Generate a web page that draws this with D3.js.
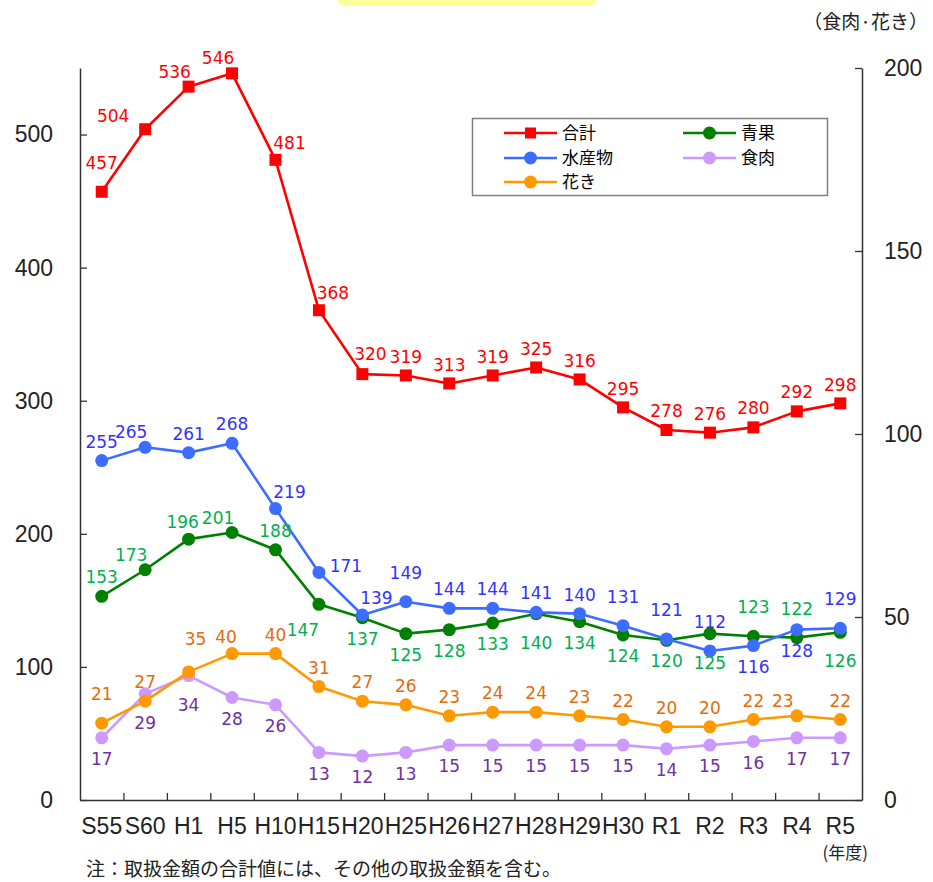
<!DOCTYPE html>
<html>
<head>
<meta charset="utf-8">
<script src="https://cdn.jsdelivr.net/npm/d3@7"></script>
<style>
  body { margin: 0; background: #fff; }
  svg { display: block; }
</style>
</head>
<body>
<script>
// categorias del eje x (年度)
var categorias = ["S55","S60","H1","H5","H10","H15","H20","H25","H26","H27","H28","H29","H30","R1","R2","R3","R4","R5"]

// valores (eje izquierdo)
var goukei = [457,504,536,546,481,368,320,319,313,319,325,316,295,278,276,280,292,298]
var seika  = [153,173,196,201,188,147,137,125,128,133,140,134,124,120,125,123,122,126]
var suisan = [255,265,261,268,219,171,139,149,144,144,141,140,131,121,112,116,128,129]
// valores (eje derecho: 食肉・花き)
var shokuniku = [17,29,34,28,26,13,12,13,15,15,15,15,15,14,15,16,17,17]
var hanaki    = [21,27,35,40,40,31,27,26,23,24,24,23,22,20,20,22,23,22]

var ticksIzq = [0,100,200,300,400,500]
var ticksDer = [0,50,100,150,200]

// donde va cada etiqueta respecto al punto
var posGoukei = ["tt","l","tl","tl","tr","tr","tr2","t","t","t","t","t","t","t","t","t","t","t"]
var posSeika  = ["t","tl","tls","tl","t","bl","b","b","b","b","bb","b","b","b","bb","tt","tt","bb"]
var posSuisan = ["t","tl","t","t","tr","r","tr","tt","t","t","t","t","tt","tt","tt","b","b","tt"]
var posShoku  = ["b","bb","bb","b","b","b","b","b","b","b","b","b","b","b","b","b","b","b"]
var posHana   = ["tt","t","ttr","tls","t","t","t","t","t","t","t","t","t","t","t","t","tl","t"]

var offs = {
  t: [0,-19], tt: [0,-29], ttr: [7,-33], tl: [-14,-15], tls: [-6,-17], l: [-32,-13],
  tr: [14,-17], tr2: [8,-20], r: [27,-7],
  b: [0,21], bb: [0,29], bl: [-16,26]
}

// series en el orden de excel (la ultima queda encima)
var series = [
  {name:"合計", values: goukei, eje:"izq", color:"#ff0000", colorTxt:"#ff0000", marker:"square", pos: posGoukei},
  {name:"青果", values: seika, eje:"izq", color:"#008000", colorTxt:"#00b050", marker:"circle", pos: posSeika},
  {name:"水産物", values: suisan, eje:"izq", color:"#3d6dff", colorTxt:"#3333ff", marker:"circle", pos: posSuisan},
  {name:"食肉", values: shokuniku, eje:"der", color:"#cc99ff", colorTxt:"#7030a0", marker:"circle", pos: posShoku},
  {name:"花き", values: hanaki, eje:"der", color:"#ff9900", colorTxt:"#e36c09", marker:"circle", pos: posHana}
]

var width = 933
var height = 882
var margin = {top: 68, bottom: 82, left: 80, right: 71}

var svg = d3.select("body").append("svg")
  .attr("width", width)
  .attr("height", height)

// el cartelito amarillo de arriba
svg.append("rect")
  .attr("x", 337).attr("y", -12)
  .attr("width", 260).attr("height", 18)
  .attr("rx", 8)
  .attr("fill", "#ffff99")

var escalaX = d3.scaleBand()
  .domain(categorias)
  .range([margin.left, width - margin.right])

var escalaYIzq = d3.scaleLinear()
  .domain([0, 550])
  .range([height - margin.bottom, margin.top])

var escalaYDer = d3.scaleLinear()
  .domain([0, 200])
  .range([height - margin.bottom, margin.top])

var numFont = "'Liberation Sans', Arial, sans-serif"
var jpFont = "'Noto Sans CJK JP', 'Noto Sans', sans-serif"
var lblFont = "'DejaVu Sans', Verdana, sans-serif"
var ejeColor = "#333"

// eje izquierdo
var gIzq = svg.append("g")
  .attr("transform", "translate(" + margin.left + ",0)")
  .call(d3.axisLeft(escalaYIzq).tickValues(ticksIzq).tickSizeInner(-7).tickSizeOuter(0).tickPadding(27))

// eje derecho
var gDer = svg.append("g")
  .attr("transform", "translate(" + (width - margin.right) + ",0)")
  .call(d3.axisRight(escalaYDer).tickValues(ticksDer).tickSizeInner(-7).tickSizeOuter(0).tickPadding(22))

// eje x: solo etiquetas, los ticks van entre categorias
var gX = svg.append("g")
  .attr("transform", "translate(0," + (height - margin.bottom) + ")")
  .call(d3.axisBottom(escalaX).tickSize(0).tickPadding(18))

gX.selectAll(".tickEntre")
  .data(categorias.slice(1))
  .enter()
  .append("line")
  .attr("class", "tickEntre")
  .attr("x1", d => escalaX(d) + 0.5).attr("x2", d => escalaX(d) + 0.5)
  .attr("y1", 0).attr("y2", -7)
  .attr("stroke", ejeColor).attr("stroke-width", 1.3)

;[gIzq, gDer, gX].forEach(g => {
  g.selectAll("path.domain").attr("stroke", ejeColor).attr("stroke-width", 1.5)
  g.selectAll(".tick line").attr("stroke", ejeColor).attr("stroke-width", 1.3)
  g.selectAll(".tick text")
    .attr("font-family", numFont)
    .attr("font-size", 23)
    .attr("fill", "#222")
})

var mitad = escalaX.bandwidth() / 2
var px = i => escalaX(categorias[i]) + mitad

function escalaDe(s) {
  return s.eje == "izq" ? escalaYIzq : escalaYDer
}

// lineas y marcadores
series.forEach(s => {
  var y = escalaDe(s)
  var linea = d3.line()
    .x((d, i) => px(i))
    .y(d => y(d))

  var g = svg.append("g")
  g.append("path")
    .datum(s.values)
    .attr("d", linea)
    .attr("fill", "none")
    .attr("stroke", s.color)
    .attr("stroke-width", 2.6)
    .attr("stroke-linejoin", "round")

  if (s.marker == "square") {
    g.selectAll("rect")
      .data(s.values)
      .enter()
      .append("rect")
      .attr("x", (d, i) => px(i) - 6)
      .attr("y", d => y(d) - 6)
      .attr("width", 12).attr("height", 12)
      .attr("fill", s.color)
  } else {
    g.selectAll("circle")
      .data(s.values)
      .enter()
      .append("circle")
      .attr("cx", (d, i) => px(i))
      .attr("cy", d => y(d))
      .attr("r", 6.5)
      .attr("fill", s.color)
  }
})

// etiquetas de datos (encima de todo)
series.forEach(s => {
  var y = escalaDe(s)
  svg.append("g")
    .selectAll("text")
    .data(s.values)
    .enter()
    .append("text")
    .attr("x", (d, i) => px(i) + offs[s.pos[i]][0])
    .attr("y", (d, i) => y(d) + offs[s.pos[i]][1])
    .attr("dy", "0.36em")
    .attr("text-anchor", "middle")
    .attr("font-family", lblFont)
    .attr("font-size", 17)
    .attr("fill", s.colorTxt)
    .text(d => d)
})

// leyenda
var leyenda = svg.append("g")
leyenda.append("rect")
  .attr("x", 472.5).attr("y", 118.5)
  .attr("width", 355).attr("height", 77)
  .attr("fill", "#fff")
  .attr("stroke", "#7f7f7f")
  .attr("stroke-width", 1.5)

var colX = [504, 683]
var filaY = [133, 158, 182]

series.forEach((s, i) => {
  var lx = colX[i % 2]
  var ly = filaY[Math.floor(i / 2)]
  var item = leyenda.append("g")
  item.append("line")
    .attr("x1", lx).attr("x2", lx + 53)
    .attr("y1", ly).attr("y2", ly)
    .attr("stroke", s.color).attr("stroke-width", 2.6)
  if (s.marker == "square") {
    item.append("rect")
      .attr("x", lx + 26.5 - 5.5).attr("y", ly - 5.5)
      .attr("width", 11).attr("height", 11)
      .attr("fill", s.color)
  } else {
    item.append("circle")
      .attr("cx", lx + 26.5).attr("cy", ly)
      .attr("r", 6.5)
      .attr("fill", s.color)
  }
  item.append("text")
    .attr("x", lx + 58).attr("y", ly)
    .attr("dy", "0.36em")
    .attr("font-family", jpFont)
    .attr("font-size", 17)
    .attr("fill", "#000")
    .text(s.name)
})

// textos sueltos
svg.append("text")
  .attr("x", 928).attr("y", 29)
  .attr("text-anchor", "end")
  .attr("font-family", jpFont)
  .attr("font-size", 19)
  .attr("fill", "#222")
  .text("（食肉·花き）")

svg.append("text")
  .attr("x", 868).attr("y", 859)
  .attr("text-anchor", "end")
  .attr("font-family", jpFont)
  .attr("font-size", 17)
  .attr("fill", "#222")
  .text("(年度)")

svg.append("text")
  .attr("x", 86).attr("y", 876)
  .attr("font-family", jpFont)
  .attr("font-size", 19)
  .attr("fill", "#222")
  .text("注：取扱金額の合計値には、その他の取扱金額を含む。")
</script>
</body>
</html>
